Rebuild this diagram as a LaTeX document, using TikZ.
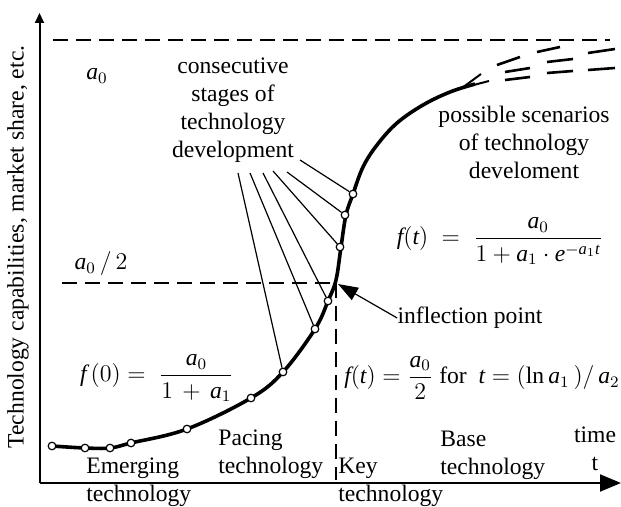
\documentclass[tikz,border=0pt]{standalone}
\usepackage{amsmath}
\usepackage{fontspec}
\setmainfont{Liberation Serif}
\newfontfamily\libser{Liberation Serif}[NFSSFamily=libser]
\DeclareSymbolFont{tletters}{TU}{libser}{m}{it}
\DeclareSymbolFont{tupright}{TU}{libser}{m}{n}
\DeclareMathSymbol{a}{\mathalpha}{tletters}{`a}
\DeclareMathSymbol{e}{\mathalpha}{tletters}{`e}
\DeclareMathSymbol{f}{\mathalpha}{tletters}{`f}
\DeclareMathSymbol{t}{\mathalpha}{tletters}{`t}
\DeclareMathSymbol{0}{\mathalpha}{tupright}{`0}
\DeclareMathSymbol{1}{\mathalpha}{tupright}{`1}
\DeclareMathSymbol{2}{\mathalpha}{tupright}{`2}
\DeclareMathSymbol{(}{\mathopen}{tupright}{`(}
\DeclareMathSymbol{)}{\mathclose}{tupright}{`)}
\DeclareMathSymbol{/}{\mathord}{tupright}{`/}
\usetikzlibrary{arrows.meta}
\tikzset{
  axisline/.style={line width=1pt},
  dsh/.style={line width=0.6pt, dash pattern=on 7.5pt off 4pt},
  scurve/.style={line width=1.8pt},
  thinline/.style={line width=0.6pt},
  scen/.style={line width=1.3pt},
  dot/.style={circle, draw, fill=white, inner sep=0pt, minimum size=3.8pt, line width=0.6pt},
  lbl/.style={align=center, inner sep=0pt},
  lbll/.style={align=left, inner sep=0pt, anchor=west}
}
\begin{document}
\begin{tikzpicture}[x=0.5pt,y=-0.5pt,font=\fontsize{11.8}{14}\selectfont]
\useasboundingbox (0,0) rectangle (621,507);
% axes
\coordinate (o) at (39.5,483);
\coordinate (ytip) at (39.5,13);
\coordinate (xtip) at (621,483);
\draw[axisline,-{Triangle[length=5pt,width=4.5pt]}] (o) -- (ytip);
\draw[axisline,-{Triangle[length=10.5pt,width=8.5pt]}] (o) -- (xtip);
% dashed guides
\coordinate (topL) at (53,40);
\coordinate (topR) at (610,40);
\coordinate (halfL) at (62,283);
\coordinate (ip) at (336,283);
\coordinate (ipb) at (336,480);
\draw[dsh] (topL) -- (topR);
\draw[dsh] (halfL) -- (ip);
\draw[dsh] (ip) -- (ipb);
% S-curve
\draw[scurve] plot[smooth, tension=0.6] coordinates {(52,446) (85,448) (110,448) (131,443) (187,429) (251,398) (283,372) (315,329) (328,301) (336,280) (341,247) (346,215) (353,194) (363,167) (377,145) (397,123) (423,105) (450,92) (475,84)};
% fork
\coordinate (fk) at (462,88);
\coordinate (fk1) at (481,74);
\coordinate (fk2) at (489,81);
\draw[line width=1pt] (fk1) -- (fk) -- (fk2);
% scenarios
\draw[scen] (497,65) -- (520,57) (537,52) -- (560,47);
\draw[scen] (505,72) -- (530,68) (547,62) -- (573,59) (588,53) -- (615,49);
\draw[scen] (505,80) -- (530,77) (547,73) -- (573,71) (588,70) -- (615,68);
% labels
\node[lbl] (a0) at (97,76) {$a_0$};
\node[lbl] (cons) at (233,110) {consecutive\\stages of\\technology\\development};
\node[lbl] (poss) at (524,142) {possible scenarios\\of technology\\develoment};
\node[lbl] (a02) at (101,264) {$a_0\,/\,2$};
\node[lbl] (eq1) at (500,241) {$f(t)\;=\;\dfrac{a_0}{1+a_1\cdot e^{-a_1t}}$};
\node[lbl] (infl) at (470,318) {inflection point};
\node[lbl] (eq2) at (482,378) {$f(t)=\dfrac{a_0}{2}$ for\ \ $t=(\textrm{ln}\,a_1\,)/\,a_2$};
\node[lbl] (eq0) at (157,378) {$f\,(0)=\;\dfrac{a_0}{1\,+\,a_1}$};
\node[lbll] (emer) at (86,482.5) {Emerging\\technology};
\node[lbll] (pace) at (218,454) {Pacing\\technology};
\node[lbll] (key) at (338,482.5) {Key\\technology};
\node[lbll] (base) at (440,455) {Base\\technology};
\node[lbl] (time) at (595,449) {time\\t};
\node[lbl, rotate=90] (ylab) at (18,247) {Technology capabilities, market share, etc.};
% inflection arrow
\draw[thinline,-{Triangle[length=10pt,width=7pt]}] (infl.west) -- (338,284);
% leaders
\coordinate (l1) at (238,173);
\coordinate (l2) at (250,173);
\coordinate (l3) at (263,173);
\coordinate (l4) at (273,171);
\coordinate (l5) at (287,172);
\coordinate (l6) at (300,160);
% dots
\foreach \n/\x/\y in {1/52/446,2/85/448,3/110/448,4/131/443,5/187/429,6/251/398,7/283/372,8/315/329,9/328/301,10/340/247,11/345/215,12/353/194}
  \node[dot] (c\n) at (\x,\y) {};
\draw[thinline] (l1) -- (c7);
\draw[thinline] (l2) -- (c8);
\draw[thinline] (l3) -- (c9);
\draw[thinline] (l4) -- (c10);
\draw[thinline] (l5) -- (c11);
\draw[thinline] (l6) -- (c12);
\end{tikzpicture}
\end{document}
